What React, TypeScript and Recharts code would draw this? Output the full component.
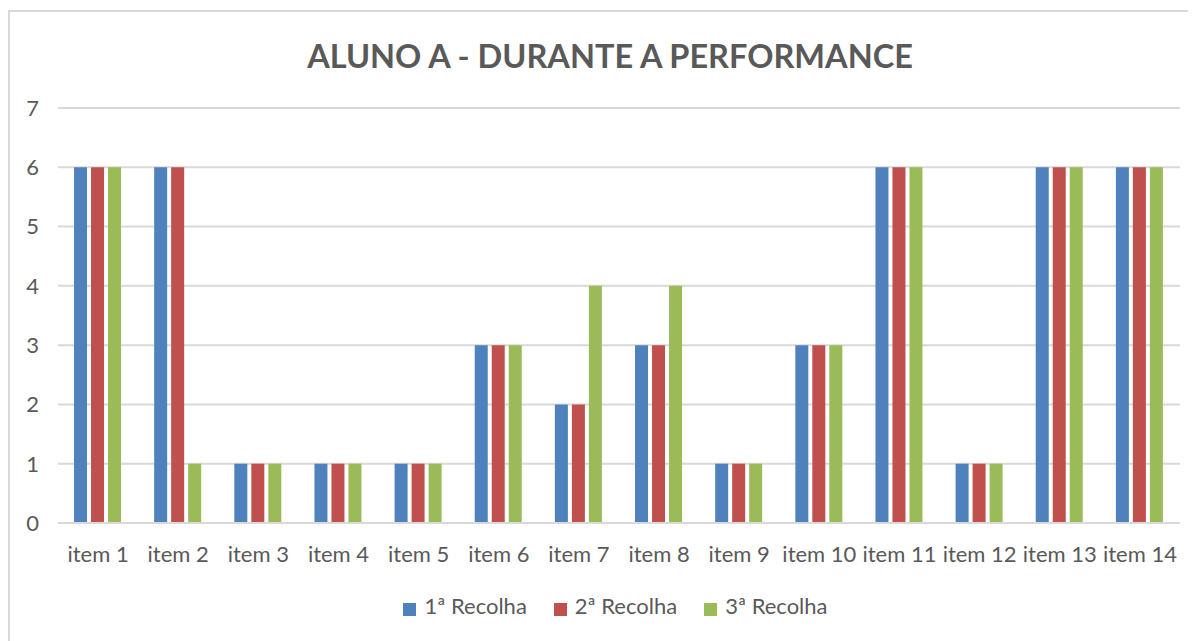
import { Bar, BarChart, CartesianGrid, Legend, XAxis, YAxis } from "recharts"

const items = ["item 1", "item 2", "item 3", "item 4", "item 5", "item 6", "item 7", "item 8", "item 9", "item 10", "item 11", "item 12", "item 13", "item 14"]
const recolha1 = [6, 6, 1, 1, 1, 3, 2, 3, 1, 3, 6, 1, 6, 6]
const recolha2 = [6, 6, 1, 1, 1, 3, 2, 3, 1, 3, 6, 1, 6, 6]
const recolha3 = [6, 1, 1, 1, 1, 3, 4, 4, 1, 3, 6, 1, 6, 6]
const yTicks = [0, 1, 2, 3, 4, 5, 6, 7]

const data = items.map((name, i) => ({
    name,
    r1: recolha1[i],
    r2: recolha2[i],
    r3: recolha3[i],
}))

const font = "Lato, 'Open Sans', sans-serif"
const textColor = "#595959"

export default function App() {
    return (
        <div style={{ position: "relative", width: 1190, height: 633, marginTop: 2, border: "2px solid #D9D9D9", borderRight: "none", borderBottom: "none", boxSizing: "border-box", fontFamily: font }}>
            <div style={{ position: "absolute", top: 24, left: 0, width: 1200, textAlign: "center", fontSize: 32.5, fontWeight: 700, color: textColor }}>
                ALUNO A - DURANTE A PERFORMANCE
            </div>
            <BarChart
                width={1186}
                height={631}
                data={data}
                margin={{ top: 96, right: 16, left: 0, bottom: 40 }}
                barCategoryGap="20%"
                barGap={4}
            >
                <CartesianGrid vertical={false} stroke="#D9D9D9" strokeWidth={2} />
                <XAxis dataKey="name" axisLine={{ stroke: "#D9D9D9", strokeWidth: 2 }} tickLine={false} tickSize={0} tickMargin={23} height={50} tick={{ fill: textColor, fontSize: 22, fontFamily: font }} interval={0} />
                <YAxis domain={[0, 7]} ticks={yTicks} axisLine={false} tickLine={false} tickSize={0} tickMargin={19} width={48} tick={{ fill: textColor, fontSize: 22, fontFamily: font }} />
                <Legend
                    verticalAlign="bottom"
                    iconType="square"
                    iconSize={13}
                    formatter={(v) => <span style={{ color: textColor, fontSize: 22, marginLeft: 4, marginRight: 17 }}>{v}</span>}
                    wrapperStyle={{ fontFamily: font, height: 30, top: 580, left: 34 }}
                />
                <Bar dataKey="r1" name="1ª Recolha" fill="#4F81BD" isAnimationActive={false} />
                <Bar dataKey="r2" name="2ª Recolha" fill="#C0504D" isAnimationActive={false} />
                <Bar dataKey="r3" name="3ª Recolha" fill="#9BBB59" isAnimationActive={false} />
            </BarChart>
        </div>
    )
}
